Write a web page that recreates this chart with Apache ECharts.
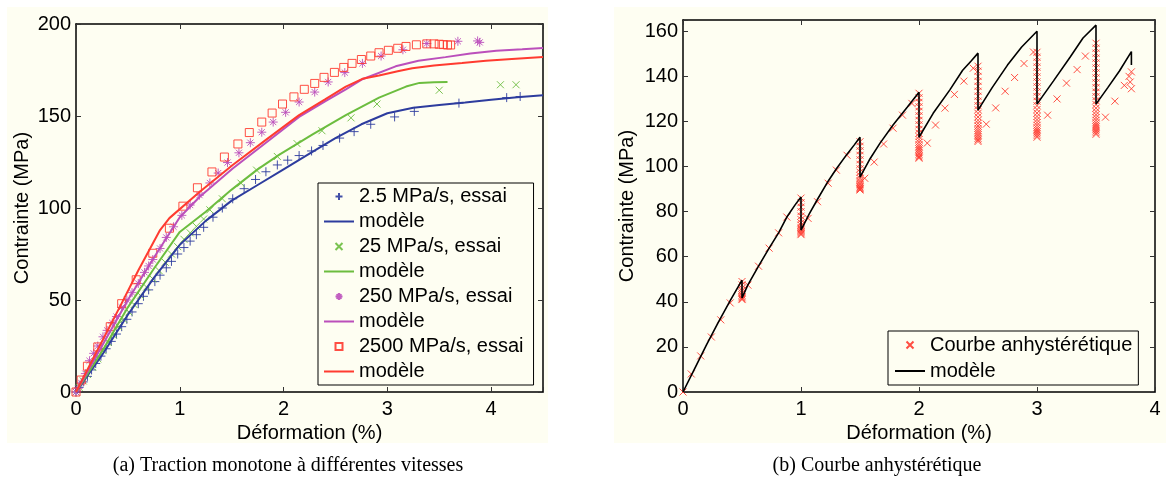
<!DOCTYPE html>
<html>
<head>
<meta charset="utf-8">
<script src="https://cdn.jsdelivr.net/npm/echarts@6/dist/echarts.min.js"></script>
<style>
html,body{margin:0;padding:0;background:#fff;}
#chart{width:1166px;height:479px;}
</style>
</head>
<body>
<div id="chart"></div>
<script>
// ---------- Panel (a): monotone traction ----------
const blueEssaiX = [0,0.03,0.07,0.11,0.15,0.19,0.24,0.29,0.34,0.39,0.44,0.49,0.54,0.6,0.65,0.7,0.76,0.81,0.87,0.92,0.98,1.04,1.1,1.16,1.23,1.32,1.41,1.51,1.62,1.73,1.83,1.94,2.04,2.15,2.27,2.38,2.54,2.68,2.84,3.07,3.26,3.69,4.15,4.28];
const blueEssaiY = [0,2.5,5.5,8.5,12,15.5,19.5,23.5,27.5,31.5,35.5,39.5,43.5,48,52,55.5,60,63.5,67.5,71,75,78.5,82,85.5,89.5,95,100,105,110.5,115.5,119.7,123.4,126,128.5,131,134,138,141.5,145.5,149.5,152.5,157,160,160.6];
const blueModelX = [0,0.25,0.5,0.75,1,1.25,1.5,1.75,2,2.25,2.5,2.75,3,3.25,3.5,3.75,4,4.25,4.5];
const blueModelY = [0,20,42,62,80,93,104,112.5,121,129.5,138,145.5,151.5,154.5,156,157.3,158.8,160.2,161.3];

const greenEssaiX = [0,0.03,0.07,0.11,0.16,0.21,0.26,0.31,0.36,0.41,0.46,0.51,0.56,0.62,0.68,0.74,0.8,0.86,0.92,0.98,1.04,1.1,1.16,1.23,1.29,1.41,1.59,1.74,1.94,2.13,2.37,2.65,2.9,3.5,4.09,4.24];
const greenEssaiY = [0,2.5,6,9.5,13.5,18,22.5,27,31,35.5,39.5,43.5,47.5,52.5,57,61.5,66,70.5,75,79,83,86.5,90,94,99,105,113.5,120.6,128,135,142,149,156.5,164,167,167];
const greenModelX = [0,0.25,0.5,0.75,1,1.25,1.5,1.75,1.96,2.28,2.6,2.92,3.18,3.31,3.45,3.58];
const greenModelY = [0,22,46,67,87,98,110,121,129,140,150.5,160,166,168,168.4,168.5];

const purpleEssaiX = [0,0.02,0.05,0.09,0.13,0.17,0.21,0.26,0.3,0.35,0.39,0.44,0.49,0.54,0.6,0.66,0.7,0.74,0.81,0.87,0.94,1.02,1.1,1.19,1.29,1.37,1.46,1.57,1.68,1.79,1.9,2.02,2.15,2.3,2.43,2.59,2.76,2.94,3.15,3.38,3.68,3.87,3.89];
const purpleEssaiY = [0,2,5,10,17,21,25,30,33.5,37.5,41,46,50,54,59,65,68.5,72,78,84,89.8,96,101.6,107,113.6,119,124.7,130,135.5,141.2,146.7,152,157.6,163,168.5,173.6,178.6,182.6,186,189.4,190.6,190.8,190];
const purpleModelX = [0,0.25,0.5,0.75,1,1.19,1.51,1.83,2.15,2.4,2.6,2.76,3.08,3.3,3.56,3.8,4.05,4.3,4.5];
const purpleModelY = [0,25,50,73,95,106,121.5,135.5,149.5,158,164.5,170,177,180,182,184,185.5,186.3,187];

const redEssaiX = [0,0.05,0.11,0.21,0.33,0.44,0.58,0.74,0.9,1.03,1.17,1.31,1.43,1.56,1.67,1.79,1.89,1.99,2.1,2.2,2.3,2.39,2.49,2.58,2.66,2.75,2.84,2.92,3.01,3.1,3.18,3.28,3.38,3.45,3.5,3.54,3.58,3.61];
const redEssaiY = [0,6.5,14,24.5,35.5,48,61,75.4,89,101,111,119.6,127.7,134.8,141,146.7,151.6,156.5,160.4,164.5,167.7,171,173.7,176.4,178.6,180.7,182.6,184.4,185.7,186.8,187.8,188.7,189.2,189.2,189,188.8,188.6,188.6];
const redModelX = [0,0.2,0.42,0.6,0.81,0.9,1.19,1.51,1.83,2.15,2.4,2.6,2.76,2.92,3.1,3.24,3.45,3.72,3.95,4.2,4.35,4.5];
const redModelY = [0,22,46,66,88,94.5,108.7,123.4,137,150.5,159,166,170.2,172,174.3,176,177.5,178.8,180,181,181.5,182];

// ---------- Panel (b): anhysteretic curve ----------
const anhX = [0,0.07,0.15,0.24,0.32,0.4,
  0.5,0.5,0.5,0.5,0.5,0.5,0.5,0.5,0.5,0.5,
  0.55,0.64,0.73,0.81,0.88,
  1,1,1,1,1,1,1,1,1,1,1,1,1,1,1,
  1.06,1.14,1.23,1.3,1.39,
  1.5,1.5,1.5,1.5,1.5,1.5,1.5,1.5,1.5,1.5,1.5,1.5,1.5,1.5,1.5,1.5,1.5,1.5,
  1.54,1.62,1.7,1.78,1.86,1.94,
  2,2,2,2,2,2,2,2,2,2,2,2,2,2,2,2,2,2,2,2,2,2,
  2.07,2.14,2.22,2.3,2.38,2.46,
  2.5,2.5,2.5,2.5,2.5,2.5,2.5,2.5,2.5,2.5,2.5,2.5,2.5,2.5,2.5,2.5,2.5,2.5,2.5,2.5,2.5,2.5,2.5,
  2.57,2.65,2.73,2.81,2.89,2.97,
  3,3,3,3,3,3,3,3,3,3,3,3,3,3,3,3,3,3,3,3,3,3,3,3,
  3.09,3.17,3.25,3.34,3.41,
  3.5,3.5,3.5,3.5,3.5,3.5,3.5,3.5,3.5,3.5,3.5,3.5,3.5,3.5,3.5,3.5,3.5,3.5,3.5,3.5,3.5,3.5,3.5,3.5,3.5,3.5,
  3.58,3.66,3.74,3.78,3.8,3.79,3.8];
const anhY = [0,8,16,24.4,32,39.5,
  49,47.5,46,45,44,43,42.3,41.8,41.3,41,
  47.4,55.8,63.8,70.6,77.6,
  86,84,82,80,78,76.5,75,74,73,72.3,71.7,71.2,70.7,70.2,69.8,
  77,84.4,92.6,98.4,105,
  111,109,107,105,103,101,99,97.5,96,94.8,93.8,93,92.2,91.5,90.9,90.4,90,89.6,
  94.8,102,110,117,122.8,128,
  132.5,130.5,128.5,126.5,124.5,122.5,120.5,118.5,116.5,114.8,113.3,112,110.8,109.7,108.7,107.8,107,106.2,105.5,104.8,104.2,103.7,
  110.4,118.4,125.9,132,137.9,143.6,
  144.5,142.3,140,137.8,135.6,133.4,131.2,129,127,125.2,123.6,122,120.5,119.2,118,116.9,115.9,115,114.1,113.3,112.5,111.8,111.1,
  118.8,126,133.4,139.5,145.7,150.8,
  150.7,148.5,146.3,144.1,141.9,139.7,137.5,135.3,133.1,131,129,127,125.3,123.7,122.2,120.8,119.5,118.3,117.2,116.2,115.3,114.5,113.7,113,
  122.8,130,137,143,149,
  154.7,152.5,150.3,148.1,145.9,143.7,141.5,139.3,137.1,135,133,131,129.2,127.5,125.9,124.4,123,121.7,120.5,119.4,118.4,117.5,116.6,115.8,115,114.3,
  121.9,129,136,140,142,137.5,134.5];
const modelBX = [0,0.1,0.2,0.3,0.4,0.5,0.5,0.55,0.64,0.73,0.81,0.88,0.95,1,1,1.07,1.14,1.23,1.3,1.39,1.45,1.5,1.5,1.58,1.67,1.78,1.9,2,2,2.12,2.26,2.37,2.44,2.5,2.5,2.62,2.75,2.87,3,3,3.14,3.28,3.39,3.5,3.5,3.6,3.7,3.8,3.8];
const modelBY = [0,10.5,21,31,40.5,49.6,41.7,47.5,55.8,63.8,70.6,77.6,83,86.5,71.8,79,85.5,93.5,99,105.5,109.5,113,95.3,103,110.4,118.4,126.3,133,113,123.6,133.9,142.7,146.7,150.3,125,135,145,153,160,127.7,138,148.5,157,162.7,127.7,135,142.5,151,145];

// ---------- labels ----------
const legendA = ['2.5 MPa/s, essai','modèle#1','25 MPa/s, essai','modèle#2','250 MPa/s, essai','modèle#3','2500 MPa/s, essai','modèle#4'];
const legendB = ['Courbe anhystérétique','modèle#5'];
const xNameA = 'Déformation (%)', yNameA = 'Contrainte (MPa)';
const xNameB = 'Déformation (%)', yNameB = 'Contrainte (MPa)';
const captionA = '(a) Traction monotone à différentes vitesses';
const captionB = '(b) Courbe anhystérétique';

const zip = (xs, ys) => xs.map((x, i) => [x, ys[i]]);
const FONT = '"Liberation Sans", Arial, sans-serif';
const PLUS = 'path://M0,5L10,5M5,0L5,10';
const CROSS = 'path://M0,0L10,10M10,0L0,10';
const STAR = 'path://M0,5L10,5M5,0L5,10M1.6,1.6L8.4,8.4M8.4,1.6L1.6,8.4';
const SQUARE = 'path://M0,0L10,0L10,10L0,10Z';
const LINEICON = 'path://M0,0L30,0L30,2L0,2Z';
const C = {blue:'#2d3c9e', green:'#6cbd3f', purple:'#bb4fbb', red:'#ff3b30'};
const BG = '#fefef2';

function axisPair(gridIndex, min, max, interval, fmt, isX) {
  const base = {
    type:'value', gridIndex, min, max, interval,
    axisLine:{show:true, onZero:false, lineStyle:{color:'#000', width:1.5}},
    axisTick:{show:true, inside:true, length:5, lineStyle:{color:'#333', width:1}},
    splitLine:{show:false},
  };
  const main = Object.assign({}, base, {
    position: isX ? 'bottom' : 'left',
    axisLabel:{show:true, color:'#000', fontFamily:FONT, fontSize:20, margin: isX ? 7 : 5, formatter: fmt},
  });
  const mirror = Object.assign({}, base, {
    position: isX ? 'top' : 'right',
    axisLabel:{show:false},
  });
  return [main, mirror];
}

const [xa, xa2] = axisPair(0, 0, 4.5, 1, v => (Math.abs(v - Math.round(v)) < 1e-9 ? String(v) : ''), true);
const [ya, ya2] = axisPair(0, 0, 200, 50, v => String(v), false);
const [xb, xb2] = axisPair(1, 0, 4, 1, v => String(v), true);
const [yb, yb2] = axisPair(1, 0, 165, 20, v => (v % 20 === 0 ? String(v) : ''), false);
Object.assign(xa, {name:xNameA, nameLocation:'middle', nameGap:28, nameTextStyle:{fontFamily:FONT, fontSize:20, color:'#000'}});
Object.assign(xb, {name:xNameB, nameLocation:'middle', nameGap:28, nameTextStyle:{fontFamily:FONT, fontSize:20, color:'#000'}});
Object.assign(ya, {name:yNameA, nameLocation:'middle', nameGap:44, nameTextStyle:{fontFamily:FONT, fontSize:20, color:'#000'}});
Object.assign(yb, {name:yNameB, nameLocation:'middle', nameGap:46, nameTextStyle:{fontFamily:FONT, fontSize:20, color:'#000'}});

function essai(name, xs, ys, symbol, color, size) {
  return {
    type:'scatter', name, xAxisIndex:0, yAxisIndex:0, data:zip(xs, ys),
    symbol, symbolSize:size, z:2, silent:true,
    itemStyle:{color:'rgba(0,0,0,0)', borderColor:color, borderWidth:1, opacity:0.9},
  };
}
function model(name, xs, ys, color, xi, yi, w) {
  return {
    type:'line', name, xAxisIndex:xi, yAxisIndex:yi, data:zip(xs, ys),
    symbol:'none', z:3, silent:true, animation:false,
    lineStyle:{color, width:w}, itemStyle:{color},
  };
}

const series = [
  essai(legendA[0], blueEssaiX, blueEssaiY, PLUS, C.blue, 9),
  model(legendA[1], blueModelX, blueModelY, C.blue, 0, 0, 2),
  essai(legendA[2], greenEssaiX, greenEssaiY, CROSS, C.green, 7),
  model(legendA[3], greenModelX, greenModelY, C.green, 0, 0, 2),
  essai(legendA[4], purpleEssaiX, purpleEssaiY, STAR, C.purple, 9),
  model(legendA[5], purpleModelX, purpleModelY, C.purple, 0, 0, 2),
  essai(legendA[6], redEssaiX, redEssaiY, 'rect', C.red, 8),
  model(legendA[7], redModelX, redModelY, C.red, 0, 0, 2),
  {
    type:'scatter', name:legendB[0], xAxisIndex:2, yAxisIndex:2, data:zip(anhX, anhY),
    symbol:CROSS, symbolSize:7, z:2, silent:true,
    itemStyle:{color:'rgba(0,0,0,0)', borderColor:'#ff3b30', borderWidth:1, opacity:0.9},
  },
  model(legendB[1], modelBX, modelBY, '#000', 2, 2, 1.6),
];

const legendCommon = {
  orient:'vertical', itemWidth:30, itemHeight:7, itemGap:0,
  backgroundColor:BG, borderColor:'#000', borderWidth:1,
  selectedMode:false, symbolKeepAspect:true,
  formatter: n => n.split('#')[0],
  textStyle:{fontFamily:FONT, fontSize:20, color:'#000', lineHeight:25},
};
const iconsA = [null, LINEICON, null, LINEICON, null, LINEICON, SQUARE, LINEICON];
const legendDataA = legendA.map((n, i) => iconsA[i] ? {name:n, icon:iconsA[i]} : {name:n});
const legendDataB = [{name:legendB[0]}, {name:legendB[1], icon:LINEICON}];

const option = {
  animation:false,
  backgroundColor:'#fff',
  grid:[
    {left:76, top:24, width:467, height:368},
    {left:683, top:20, width:472, height:372},
  ],
  xAxis:[xa, xa2, xb, xb2],
  yAxis:[ya, ya2, yb, yb2],
  legend:[
    Object.assign({}, legendCommon, {left:318, top:183, padding:[1,10,1,6], data:legendDataA}),
    Object.assign({}, legendCommon, {left:888, top:331, padding:[1,6,1,7], data:legendDataB,
      textStyle:{fontFamily:FONT, fontSize:20, color:'#000', lineHeight:26}}),
  ],
  graphic:[
    {type:'rect', z:-100, silent:true, shape:{x:7, y:7, width:541, height:436}, style:{fill:BG}},
    {type:'rect', z:-100, silent:true, shape:{x:614, y:7, width:552, height:436}, style:{fill:BG}},
    {type:'text', silent:true, x:288, y:466, style:{text:captionA, font:'20px "Liberation Serif", "Times New Roman", serif', fill:'#000', textAlign:'center', textVerticalAlign:'middle'}},
    {type:'text', silent:true, x:877, y:466, style:{text:captionB, font:'20px "Liberation Serif", "Times New Roman", serif', fill:'#000', textAlign:'center', textVerticalAlign:'middle'}},
  ],
  series,
};

const chart = echarts.init(document.getElementById('chart'), null, {renderer:'canvas'});
chart.setOption(option);
</script>
</body>
</html>
